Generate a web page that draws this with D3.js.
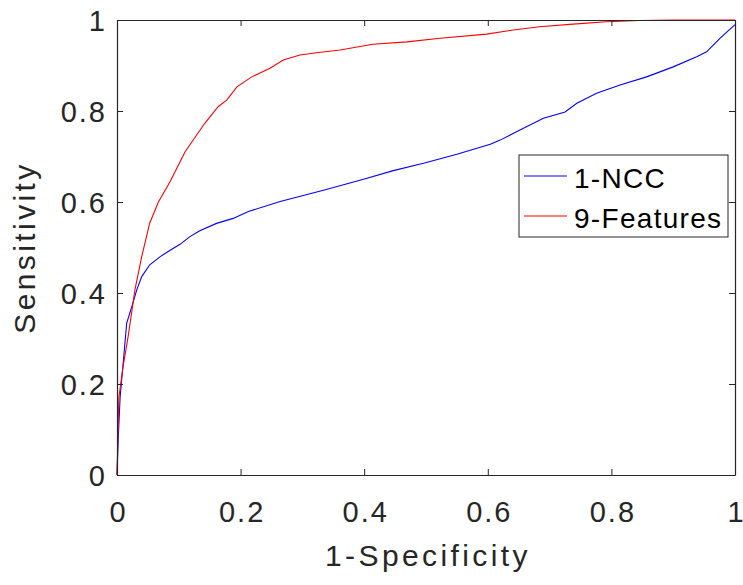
<!DOCTYPE html>
<html>
<head>
<meta charset="utf-8">
<script src="https://cdn.jsdelivr.net/npm/d3@7"></script>
<style>
  body { margin: 0; background: #fff; }
  text { font-family: "Liberation Sans", Arial, sans-serif; fill: #262626; }
</style>
</head>
<body>
<div id="chart"></div>
<script>
    // 1-NCC curve (blue)
    var nccFpr = [0, 0.002, 0.005, 0.010, 0.0157, 0.024, 0.032, 0.040, 0.053, 0.07, 0.086, 0.102, 0.118, 0.134, 0.161, 0.188, 0.2125, 0.264, 0.334, 0.399, 0.447, 0.496, 0.550, 0.604, 0.62, 0.652, 0.69, 0.725, 0.744, 0.776, 0.814, 0.857, 0.900, 0.938, 0.954, 0.976, 1];
    var nccTpr = [0, 0.08, 0.17, 0.246, 0.334, 0.37, 0.407, 0.436, 0.462, 0.48, 0.494, 0.507, 0.524, 0.537, 0.553, 0.564, 0.579, 0.601, 0.626, 0.650, 0.669, 0.685, 0.705, 0.727, 0.736, 0.758, 0.784, 0.798, 0.817, 0.839, 0.857, 0.875, 0.897, 0.919, 0.93, 0.96, 0.99];

    // 9-Features curve (red)
    var featFpr = [0, 0.003, 0.010, 0.018, 0.029, 0.04, 0.053, 0.067, 0.086, 0.11, 0.142, 0.164, 0.1775, 0.194, 0.218, 0.2476, 0.269, 0.296, 0.323, 0.361, 0.414, 0.469, 0.523, 0.598, 0.641, 0.684, 0.738, 0.792, 0.846, 0.9, 1];
    var featTpr = [0, 0.17, 0.24, 0.304, 0.407, 0.48, 0.554, 0.60, 0.645, 0.71, 0.773, 0.81, 0.824, 0.853, 0.875, 0.894, 0.912, 0.923, 0.928, 0.934, 0.9466, 0.952, 0.96, 0.969, 0.978, 0.985, 0.991, 0.996, 0.999, 1, 1];

    var tickValues = [0, 0.2, 0.4, 0.6, 0.8, 1];
    var seriesNames = ["1-NCC", "9-Features"];
    var seriesColors = ["#0000ff", "#ff0000"];

    var svg = d3.select("#chart")
                .append("svg")
                .attr("width", 743)
                .attr("height", 585);

    var plotLeft = 117, plotRight = 735, plotTop = 20, plotBottom = 475;

    var xScale = d3.scaleLinear().domain([0, 1]).range([plotLeft, plotRight]);
    var yScale = d3.scaleLinear().domain([0, 1]).range([plotBottom, plotTop]);

    var series = [
      d3.zip(nccFpr, nccTpr),
      d3.zip(featFpr, featTpr)
    ];

    var line = d3.line()
                 .x(d => xScale(d[0]))
                 .y(d => yScale(d[1]));

    series.forEach(function(s, i) {
      svg.append("path")
         .datum(s)
         .attr("fill", "none")
         .attr("stroke", seriesColors[i])
         .attr("stroke-width", 1.1)
         .attr("d", line);
    });

    // axes, MATLAB style: ticks inside, box on all sides
    function styleAxis(g) {
      g.select(".domain").attr("stroke", "#262626").attr("stroke-width", 1.2);
      g.selectAll(".tick line").attr("stroke", "#262626");
    }

    // single-digit labels get no spacing so they don't poke past the edge
    function tickSpacing(d) {
      return String(d).length > 1 ? "2px" : "0px";
    }

    svg.append("g")
       .attr("transform", `translate(0, ${plotBottom})`)
       .call(d3.axisBottom(xScale).tickValues(tickValues).tickSize(-6).tickSizeOuter(0).tickFormat(d3.format("")))
       .call(styleAxis)
       .call(g => g.selectAll(".tick text")
                   .attr("y", 47)
                   .attr("dy", null)
                   .attr("dx", d => String(d).length > 1 ? "1px" : "0px")
                   .style("font-size", "29px")
                   .style("letter-spacing", tickSpacing)
                   .attr("fill", "#262626"));

    svg.append("g")
       .attr("transform", `translate(0, ${plotTop})`)
       .call(d3.axisTop(xScale).tickValues(tickValues).tickSize(-6).tickSizeOuter(0).tickFormat(""))
       .call(styleAxis);

    svg.append("g")
       .attr("transform", `translate(${plotLeft}, 0)`)
       .call(d3.axisLeft(yScale).tickValues(tickValues).tickSize(-6).tickSizeOuter(0).tickFormat(d3.format("")))
       .call(styleAxis)
       .call(g => g.selectAll(".tick text")
                   .attr("x", d => String(d).length > 1 ? -10 : -12)
                   .attr("dy", "0.36em")
                   .style("font-size", "29px")
                   .style("letter-spacing", tickSpacing)
                   .attr("fill", "#262626"));

    svg.append("g")
       .attr("transform", `translate(${plotRight}, 0)`)
       .call(d3.axisRight(yScale).tickValues(tickValues).tickSize(-6).tickSizeOuter(0).tickFormat(""))
       .call(styleAxis);

    svg.append("text")
       .attr("x", (plotLeft + plotRight) / 2 + 2)
       .attr("y", 566)
       .attr("text-anchor", "middle")
       .style("font-size", "30px")
       .style("letter-spacing", "3.4px")
       .text("1-Specificity");

    svg.append("text")
       .attr("transform", `translate(35, ${(plotTop + plotBottom) / 2}) rotate(-90)`)
       .attr("text-anchor", "middle")
       .style("font-size", "30px")
       .style("letter-spacing", "3.4px")
       .text("Sensitivity");

    // legend
    var legend = svg.append("g");

    legend.append("rect")
          .attr("x", 519)
          .attr("y", 155)
          .attr("width", 209)
          .attr("height", 82)
          .attr("fill", "#fff")
          .attr("stroke", "#262626")
          .attr("stroke-width", 1);

    seriesNames.forEach(function(name, i) {
      var cy = 176 + i * 40;
      legend.append("line")
            .attr("x1", 524)
            .attr("x2", 567)
            .attr("y1", cy)
            .attr("y2", cy)
            .attr("stroke", seriesColors[i])
            .attr("stroke-width", 1.1);
      legend.append("text")
            .attr("x", 574)
            .attr("y", cy + 12)
            .style("font-size", "28px")
            .style("letter-spacing", "1.3px")
            .style("fill", "#000")
            .text(name);
    });
</script>
</body>
</html>
